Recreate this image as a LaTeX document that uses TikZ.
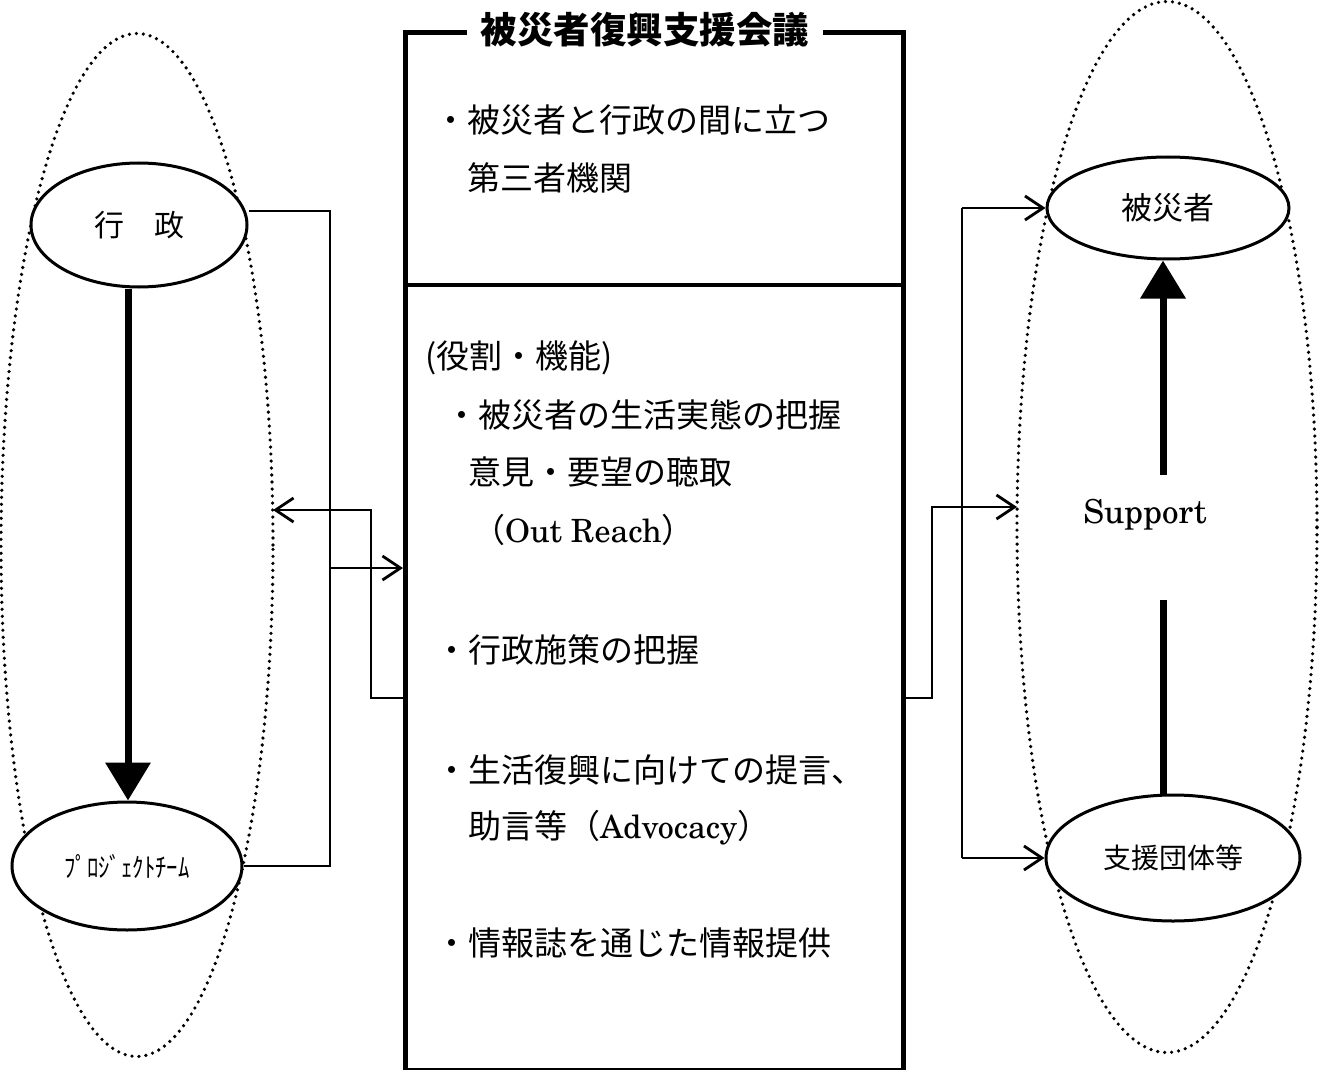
\documentclass[tikz,border=0pt]{standalone}
\usepackage{fontspec}
\setmainfont{Noto Sans CJK JP}
\newfontfamily\lat{TeX Gyre Schola}
\usetikzlibrary{arrows.meta,shapes.geometric}
\tikzset{
  conn/.style={line width=2.8pt},
  barb/.style={conn, -{Straight Barb[length=18pt,width=24pt]}},
  bigarrow/.style={line width=7pt, -{Triangle[length=38pt,width=44pt]}},
  bigshaft/.style={line width=7pt},
  oval/.style={ellipse, draw, fill=white, line width=3pt, inner sep=0pt},
  group/.style={ellipse, draw, line width=3.6pt, dash pattern=on 0pt off 7pt, line cap=round, inner sep=0pt},
  jp/.style={font=\fontsize{33}{36}\selectfont, anchor=west, inner sep=0pt},
}
\begin{document}
\begin{tikzpicture}[x=1pt,y=-1pt]
\useasboundingbox (0,0) rectangle (1323,1070);
% groups
\node[group, minimum width=272pt, minimum height=1023pt] (lgroup) at (137,545) {};
\node[group, minimum width=300pt, minimum height=1051pt] (rgroup) at (1167,527) {};
% central box
\node[draw, line width=4.6pt, minimum width=498pt, minimum height=1038pt, anchor=north west, inner sep=0pt] (box) at (403,30) {};
\coordinate (divl) at (403,285);
\coordinate (divr) at (901,285);
\draw[line width=4.6pt] (divl) -- (divr);
\node[fill=white, inner xsep=14pt, inner ysep=2pt, font=\fontsize{36.5}{40}\selectfont\bfseries] (title) at (645,30) {被災者復興支援会議};
% ovals
\node[oval, minimum width=216pt, minimum height=124pt, font=\fontsize{30}{34}\selectfont] (gyosei) at (139,225) {行　政};
\node[oval, minimum width=230pt, minimum height=128pt, font=\fontsize{27}{30}\selectfont] (pt) at (127,866) {\scalebox{0.84}[1]{ﾌﾟﾛｼﾞｪｸﾄﾁｰﾑ}};
\node[oval, minimum width=242pt, minimum height=102pt, font=\fontsize{31}{34}\selectfont] (hisai) at (1168,208) {被災者};
\node[oval, minimum width=254pt, minimum height=126pt, font=\fontsize{28}{32}\selectfont] (shien) at (1173,858) {支援団体等};
% texts in box
\node[jp] (t1) at (434,120) {・被災者と行政の間に立つ};
\node[jp] (t2) at (467,178) {第三者機関};
\node[jp] (t3) at (425,358) {(役割・機能)};
\node[jp] (t4) at (445,415) {・被災者の生活実態の把握};
\node[jp] (t5) at (468,472) {意見・要望の聴取};
\node[jp] (t6) at (472,530) {（{\lat\fontsize{32}{34}\selectfont Out Reach}）};
\node[jp] (t7) at (435,650) {・行政施策の把握};
\node[jp] (t8) at (435,770) {・生活復興に向けての提言、};
\node[jp] (t9) at (468,828) {助言等（{\lat\fontsize{32}{34}\selectfont Advocacy}）};
\node[jp] (t10) at (435,943) {・情報誌を通じた情報提供};
% Support
\node[font=\lat\fontsize{33}{36}\selectfont, inner sep=0pt] (sup) at (1145,515) {Support};
% left thick arrow
\draw[bigarrow] (gyosei.south -| 128,0) -- (pt.north -| 128,0);
% left connectors
\coordinate (lk1) at (330,211);
\coordinate (lk2) at (330,866);
\draw[conn] (gyosei.east |- lk1) -- (lk1) -- (lk2) -- (pt.east);
\coordinate (la) at (330,568);
\draw[barb] (la) -- (box.west |- la);
\coordinate (lb1) at (371,510);
\coordinate (lb2) at (371,698);
\coordinate (lbt) at (273,510);
\draw[barb] (box.west |- lb2) -- (lb2) -- (lb1) -- (lbt);
% right connectors
\coordinate (rk1) at (962,208);
\coordinate (rk2) at (962,858);
\draw[conn] (rk1) -- (rk2);
\draw[barb] (rk1) -- (hisai.west);
\draw[barb] (rk2) -- (shien.west);
\coordinate (rb1) at (932,698);
\coordinate (rb2) at (932,507);
\coordinate (rbt) at (1017,507);
\draw[barb] (box.east |- rb1) -- (rb1) -- (rb2) -- (rbt);
% support arrows
\coordinate (s1) at (1163,475);
\coordinate (s2) at (1163,600);
\draw[bigarrow] (s1) -- (s1 |- hisai.south);
\draw[bigshaft] (s1 |- shien.north) -- (s2);
\end{tikzpicture}
\end{document}
